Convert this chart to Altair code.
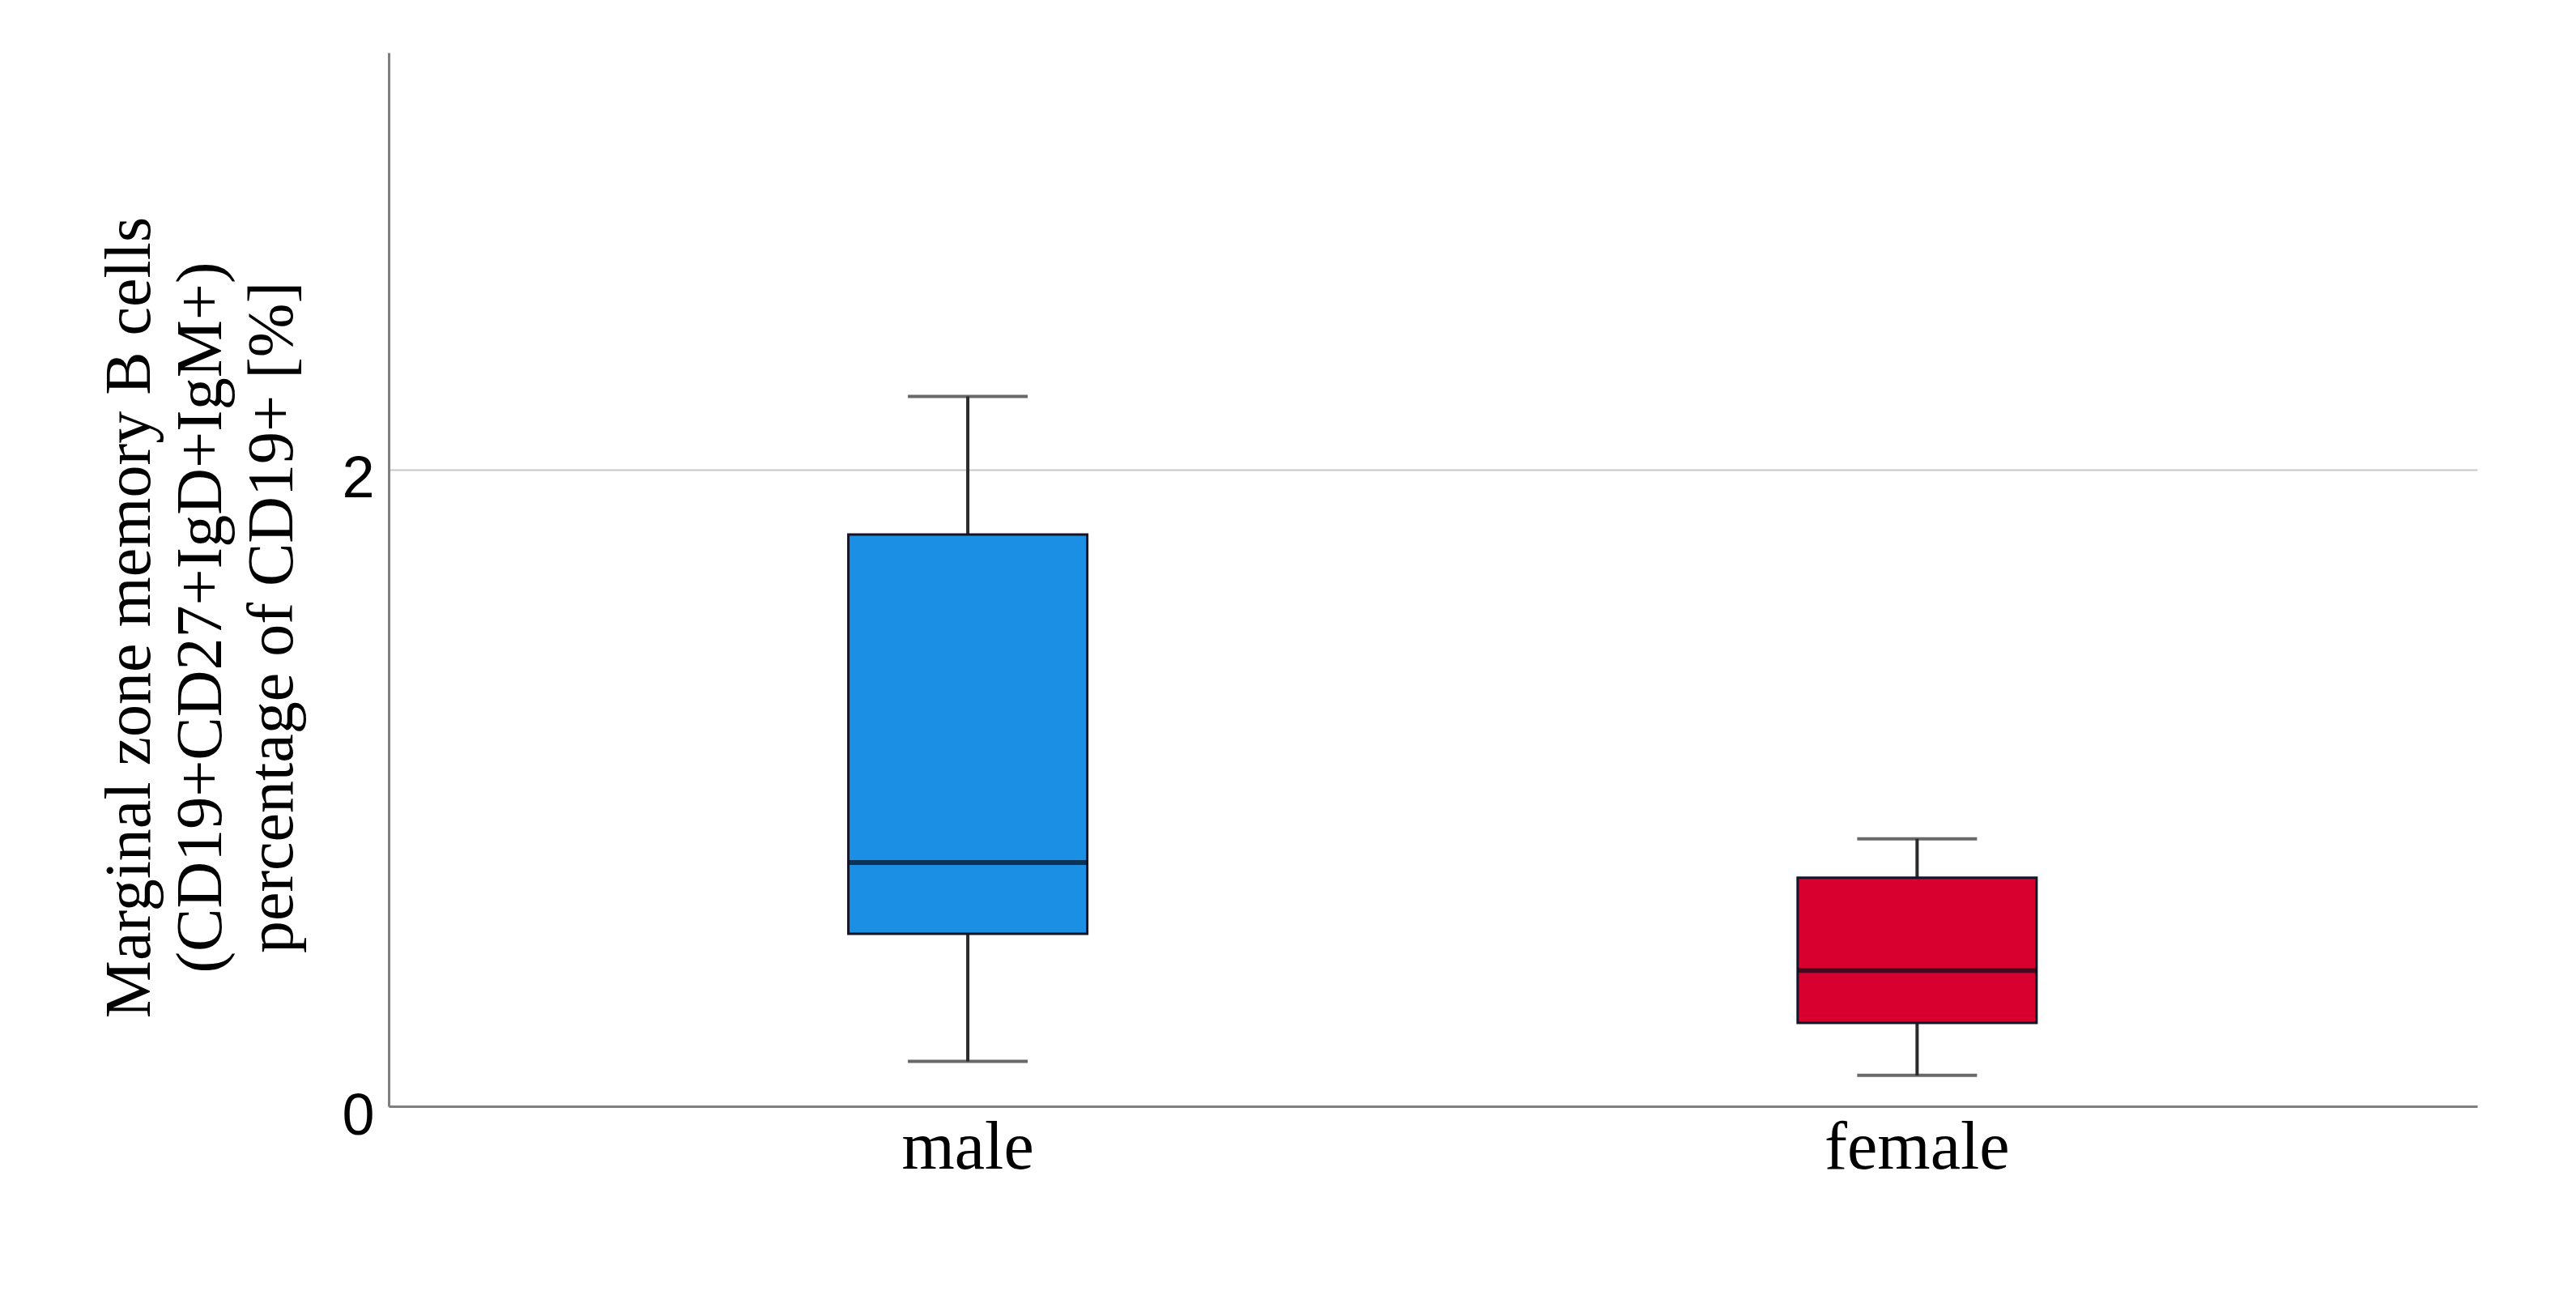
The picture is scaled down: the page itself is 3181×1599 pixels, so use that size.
import altair as alt
import pandas as pd

categories = ["male", "female"]
whisker_low = [0.141, 0.097]
q1 = [0.542, 0.262]
median = [0.766, 0.427]
q3 = [1.796, 0.718]
whisker_high = [2.23, 0.84]
colors = ["#1a8fe3", "#d8002f"]

df = pd.DataFrame({
    "group": categories,
    "low": whisker_low,
    "q1": q1,
    "median": median,
    "q3": q3,
    "high": whisker_high,
})

x_enc = alt.X(
    "group:N",
    sort=categories,
    scale=alt.Scale(paddingInner=0, paddingOuter=0.1, align=0.55),
    axis=alt.Axis(
        title=None,
        labelAngle=0,
        labelFont="Liberation Serif",
        labelFontSize=84,
        labelColor="black",
        labelPadding=10,
        labelLimit=1000,
        ticks=False,
        tickSize=0,
        domainColor="#7f7f7f",
        domainWidth=3,
        grid=False,
    ),
)

y_scale = alt.Scale(domain=[0, 3.31], nice=False, zero=True)
y_axis = alt.Axis(
    title=["Marginal zone memory B cells", "(CD19+CD27+IgD+IgM+)", "percentage of CD19+ [%]"],
    titleFont="Liberation Serif",
    titleFontSize=80,
    titleFontWeight="normal",
    titleColor="black",
    titleLineHeight=88,
    titleAngle=270,
    titleAlign="center",
    titleBaseline="alphabetic",
    titleX=-296,
    titleY=697,
    titleLimit=2000,
    values=[0, 2],
    format="d",
    labelFont="Liberation Sans",
    labelFontSize=72,
    labelColor="black",
    labelPadding=18,
    labelOffset=12,
    ticks=False,
    tickSize=0,
    domainColor="#7f7f7f",
    domainWidth=3,
    grid=True,
    gridColor="#c8c8c8",
    gridWidth=2,
)

color_enc = alt.Color("group:N", scale=alt.Scale(domain=categories, range=colors), legend=None)

base = alt.Chart(df)
line_col = "#2a2a2a"

whisk_lo = base.mark_rule(color=line_col, strokeWidth=4).encode(
    x=x_enc, y=alt.Y("low:Q", scale=y_scale, axis=y_axis), y2="q1:Q"
)
whisk_hi = base.mark_rule(color=line_col, strokeWidth=4).encode(
    x=x_enc, y=alt.Y("q3:Q", scale=y_scale, axis=y_axis), y2="high:Q"
)
cap_lo = base.mark_tick(color=line_col, size=148, thickness=4).encode(
    x=x_enc, y=alt.Y("low:Q", scale=y_scale, axis=y_axis)
)
cap_hi = base.mark_tick(color=line_col, size=148, thickness=4).encode(
    x=x_enc, y=alt.Y("high:Q", scale=y_scale, axis=y_axis)
)
box = base.mark_bar(size=295, stroke="#141428", strokeWidth=3).encode(
    x=x_enc, y=alt.Y("q1:Q", scale=y_scale, axis=y_axis), y2="q3:Q", color=color_enc
)
med = base.mark_tick(color="#0a0a18", size=295, thickness=6).encode(
    x=x_enc, y=alt.Y("median:Q", scale=y_scale, axis=y_axis)
)

chart = alt.layer(whisk_lo, whisk_hi, cap_lo, cap_hi, box, med).properties(
    width=2579,
    height=1301,
    autosize=alt.AutoSizeParams(type="none"),
    padding={"left": 472, "top": 57, "right": 100, "bottom": 200},
    background="white",
).configure_view(strokeWidth=0)

chart.save("out.html", embed_options={"renderer": "svg", "actions": False})
